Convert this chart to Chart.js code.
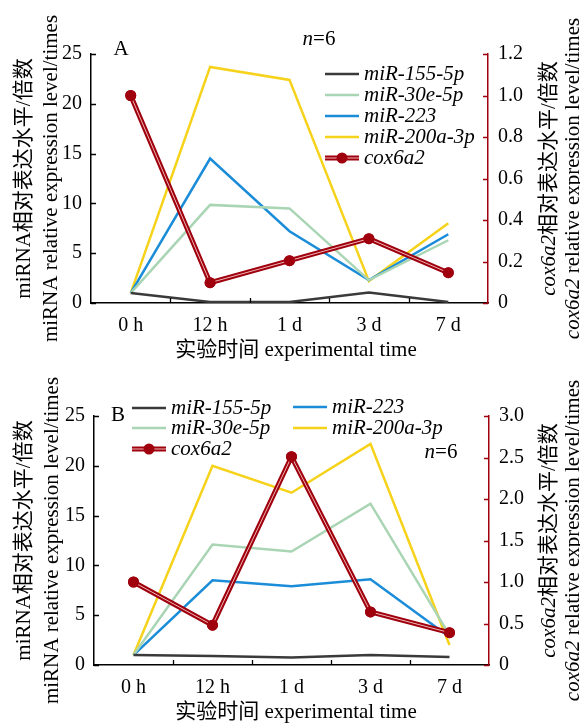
<!DOCTYPE html>
<html>
<head>
<meta charset="utf-8">
<script src="https://cdn.jsdelivr.net/npm/chart.js@4.4.0/dist/chart.umd.min.js"></script>
<style>
html, body { margin: 0; padding: 0; background: #fff; }
#wrap { position: relative; width: 580px; height: 724px; }
canvas { position: absolute; left: 0; }
</style>
</head>
<body>
<div id="wrap">
<canvas id="chartA" width="580" height="362" style="top:0"></canvas>
<canvas id="chartB" width="580" height="362" style="top:362px"></canvas>
</div>
<script>
const timeLabels = ['0 h', '12 h', '1 d', '3 d', '7 d'];
const seriesNames = ['miR-155-5p', 'miR-30e-5p', 'miR-223', 'miR-200a-3p', 'cox6a2'];
const seriesColors = ['#3a3a3a', '#a9d5b4', '#1a8cd8', '#f6d21a', '#a0000e'];
const leftTicksMax = 25;

// 图A
const a_miR155 = [1.0, 0.1, 0.1, 1.05, 0.1];
const a_miR30e = [1.0, 9.85, 9.5, 2.3, 6.3];
const a_miR223 = [1.0, 14.5, 7.2, 2.3, 6.9];
const a_miR200a = [1.0, 23.7, 22.4, 2.2, 8.0];
const a_cox6a2 = [1.0, 0.098, 0.204, 0.31, 0.146];

// 图B
const b_miR155 = [1.0, 0.9, 0.75, 1.0, 0.8];
const b_miR30e = [1.0, 12.1, 11.4, 16.2, 3.0];
const b_miR223 = [1.0, 8.5, 7.9, 8.6, 2.8];
const b_miR200a = [1.0, 20.0, 17.3, 22.2, 2.0];
const b_cox6a2 = [1.0, 0.48, 2.51, 0.64, 0.39];

const SERIF = '"Liberation Serif", "Noto Sans CJK SC", serif';
const RED = '#a0000e';
const STRIPE = '#efb6b6';

function fnt(size, italic) {
    return (italic ? 'italic ' : '') + size + 'px ' + SERIF;
}

// 混合字体文字（斜体基因名）
function drawParts(ctx, parts, cx, cy, size, rotate) {
    ctx.save();
    ctx.translate(cx, cy);
    if (rotate) ctx.rotate(-Math.PI / 2);
    let w = 0;
    parts.forEach(p => { ctx.font = fnt(size, p[1]); w += ctx.measureText(p[0]).width; });
    let x = -w / 2;
    ctx.textBaseline = 'middle';
    ctx.textAlign = 'left';
    ctx.fillStyle = '#000';
    parts.forEach(p => {
        ctx.font = fnt(size, p[1]);
        ctx.fillText(p[0], x, 0);
        x += ctx.measureText(p[0]).width;
    });
    ctx.restore();
}

function stripePath(ctx, pts) {
    ctx.beginPath();
    pts.forEach((p, i) => i ? ctx.lineTo(p.x, p.y) : ctx.moveTo(p.x, p.y));
    ctx.strokeStyle = STRIPE;
    ctx.lineWidth = 1;
    ctx.stroke();
}

const decor = {
    id: 'decor',
    afterDatasetsDraw(chart) {
        const ctx = chart.ctx;
        const meta = chart.getDatasetMeta(4);
        ctx.save();
        stripePath(ctx, meta.data);
        meta.data.forEach(p => p.draw(ctx));
        ctx.restore();
    },
    afterDraw(chart, args, o) {
        const ctx = chart.ctx;
        const ca = chart.chartArea;
        const sx = chart.scales.x, sy = chart.scales.y, sy2 = chart.scales.y2;
        ctx.save();
        // 向内刻度
        ctx.lineWidth = 1.3;
        ctx.strokeStyle = '#000';
        ctx.beginPath();
        for (let i = 1; i < timeLabels.length; i++) {
            const x = Math.round((sx.getPixelForValue(i - 1) + sx.getPixelForValue(i)) / 2) + 0.5;
            ctx.moveTo(x, ca.bottom);
            ctx.lineTo(x, ca.bottom - 5);
        }
        sy.ticks.forEach(t => {
            const y = Math.round(sy.getPixelForValue(t.value)) + 0.5;
            ctx.moveTo(ca.left, y);
            ctx.lineTo(ca.left + 5, y);
        });
        ctx.stroke();
        ctx.strokeStyle = RED;
        ctx.beginPath();
        sy2.ticks.forEach(t => {
            const y = Math.round(sy2.getPixelForValue(t.value)) + 0.5;
            ctx.moveTo(ca.right, y);
            ctx.lineTo(ca.right - 5, y);
        });
        ctx.stroke();

        // 坐标轴标题
        const cy = (ca.top + ca.bottom) / 2;
        drawParts(ctx, [['miRNA相对表达水平/倍数', false]], o.lt1, cy, 21, true);
        drawParts(ctx, [['miRNA relative expression level/times', false]], o.lt2, cy, 21, true);
        drawParts(ctx, [['cox6a2', true], ['相对表达水平/倍数', false]], o.rt1, cy, 21, true);
        drawParts(ctx, [['cox6a2', true], [' relative expression level/times', false]], o.rt2, cy, 21, true);
        drawParts(ctx, [['实验时间 experimental time', false]], o.xtX, o.xtY, 21, false);

        // 面板字母与 n=6
        drawParts(ctx, [[o.letter, false]], o.letterX, o.letterY, 21, false);
        drawParts(ctx, [['n', true], ['=6', false]], o.nX, o.nY, 21, false);

        // 图例
        o.legend.forEach(item => {
            const ds = chart.data.datasets[item.i];
            const x0 = item.x, x1 = item.x + 34, y = item.y;
            ctx.lineCap = 'butt';
            ctx.strokeStyle = ds.borderColor;
            ctx.lineWidth = ds.borderWidth;
            ctx.beginPath();
            ctx.moveTo(x0, y);
            ctx.lineTo(x1, y);
            ctx.stroke();
            if (item.i === 4) {
                stripePath(ctx, [{x: x0, y: y}, {x: x1, y: y}]);
                ctx.fillStyle = ds.borderColor;
                ctx.beginPath();
                ctx.arc((x0 + x1) / 2, y, 5.5, 0, Math.PI * 2);
                ctx.fill();
            }
            ctx.font = fnt(21, true);
            ctx.fillStyle = '#000';
            ctx.textBaseline = 'middle';
            ctx.textAlign = 'left';
            ctx.fillText(ds.label, x1 + 5, y);
        });
        ctx.restore();
    }
};

function lineSet(i, data) {
    return {
        label: seriesNames[i],
        data: data,
        yAxisID: 'y',
        borderColor: seriesColors[i],
        backgroundColor: seriesColors[i],
        borderWidth: 2.5,
        pointRadius: 0,
        tension: 0
    };
}

function makeChart(id, series, cfg) {
    const tickFont = { family: SERIF, size: 20 };
    return new Chart(document.getElementById(id), {
        type: 'line',
        data: {
            labels: timeLabels,
            datasets: [
                lineSet(0, series[0]),
                lineSet(1, series[1]),
                lineSet(2, series[2]),
                lineSet(3, series[3]),
                {
                    label: seriesNames[4],
                    data: series[4],
                    yAxisID: 'y2',
                    borderColor: RED,
                    backgroundColor: RED,
                    borderWidth: 5,
                    pointRadius: 5.5,
                    pointBorderWidth: 0,
                    pointHoverRadius: 5.5,
                    tension: 0,
                    order: -1
                }
            ]
        },
        options: {
            responsive: false,
            animation: false,
            events: [],
            layout: { padding: { top: 54, left: 0, right: 0, bottom: 0 } },
            plugins: {
                legend: { display: false },
                tooltip: { enabled: false },
                decor: cfg.decor
            },
            scales: {
                x: {
                    offset: true,
                    grid: { display: false, drawTicks: false },
                    border: { color: '#000', width: 1.5 },
                    ticks: { font: tickFont, color: '#000', padding: 11, autoSkip: false, maxRotation: 0 },
                    afterFit: s => { s.height = 59; }
                },
                y: {
                    position: 'left',
                    min: 0,
                    max: leftTicksMax,
                    grid: { display: false, drawTicks: false },
                    border: { color: '#000', width: 1.5 },
                    ticks: { stepSize: 5, font: tickFont, color: '#000', padding: 9 },
                    afterFit: s => { s.width = cfg.left; }
                },
                y2: {
                    position: 'right',
                    min: 0,
                    max: cfg.rmax,
                    grid: { display: false, drawTicks: false },
                    border: { color: RED, width: 1.5 },
                    ticks: {
                        stepSize: cfg.rstep, font: tickFont, color: '#000', padding: 10,
                        callback: v => v === 0 ? '0' : v.toFixed(1)
                    },
                    afterFit: s => { s.width = 580 - cfg.right; }
                }
            }
        },
        plugins: [decor]
    });
}

makeChart('chartA', [a_miR155, a_miR30e, a_miR223, a_miR200a, a_cox6a2], {
    left: 91, right: 488, rmax: 1.2, rstep: 0.2,
    decor: {
        lt1: 24, lt2: 51, rt1: 549, rt2: 573, xtX: 296, xtY: 350,
        letter: 'A', letterX: 121, letterY: 49, nX: 319, nY: 39,
        legend: [
            { i: 0, x: 325, y: 74 },
            { i: 1, x: 325, y: 95 },
            { i: 2, x: 325, y: 116 },
            { i: 3, x: 325, y: 137 },
            { i: 4, x: 325, y: 158 }
        ]
    }
});

makeChart('chartB', [b_miR155, b_miR30e, b_miR223, b_miR200a, b_cox6a2], {
    left: 94, right: 489, rmax: 3.0, rstep: 0.5,
    decor: {
        lt1: 24, lt2: 52, rt1: 549, rt2: 573, xtX: 296, xtY: 350,
        letter: 'B', letterX: 118, letterY: 53, nX: 441, nY: 90,
        legend: [
            { i: 0, x: 132, y: 46 },
            { i: 1, x: 132, y: 66 },
            { i: 4, x: 132, y: 87 },
            { i: 2, x: 293, y: 45 },
            { i: 3, x: 293, y: 66 }
        ]
    }
});
</script>
</body>
</html>
